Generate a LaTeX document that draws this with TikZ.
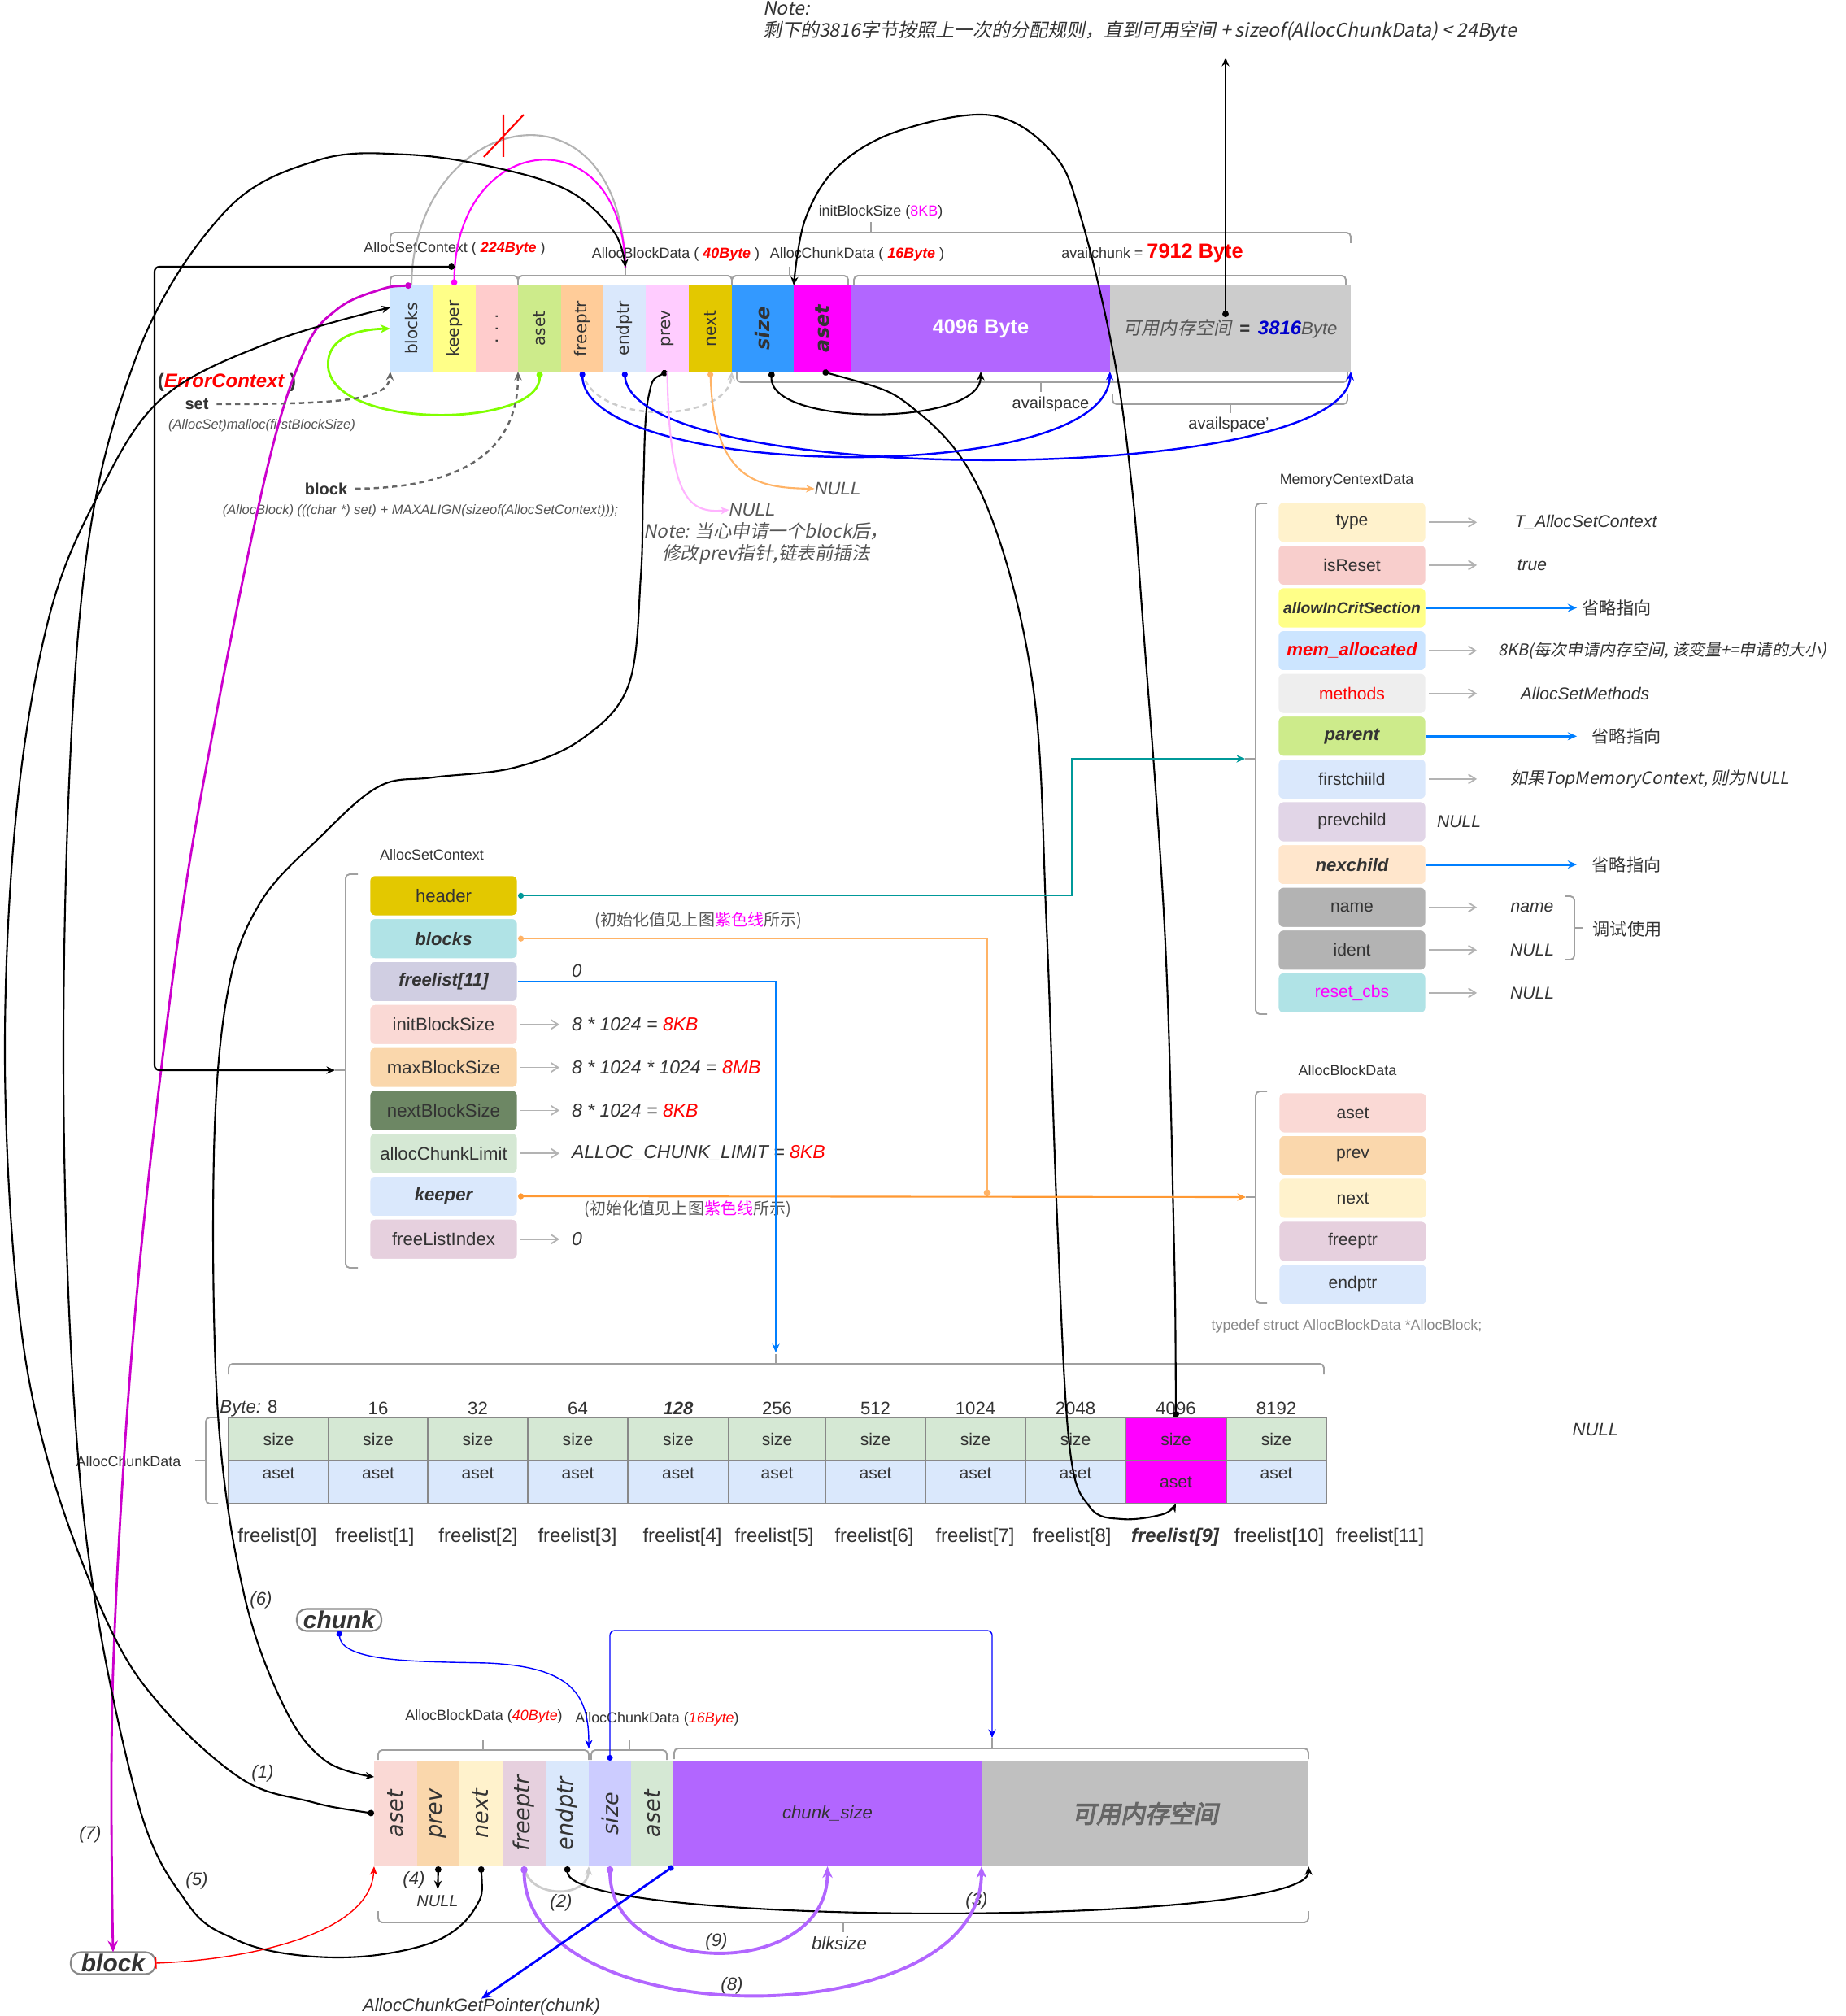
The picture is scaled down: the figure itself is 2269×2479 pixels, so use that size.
\documentclass[tikz,border=0pt]{standalone}
\usepackage{fontspec}
\setmainfont{Liberation Sans}
\newfontfamily\dvs{DejaVu Sans}
\newfontfamily\cjk{Noto Sans CJK SC}
\newfontfamily\cjki{Noto Sans CJK SC}[FakeSlant=0.2]
\newfontfamily\cjkbi{Noto Sans CJK SC}[FakeSlant=0.2,FakeBold=4]
\usetikzlibrary{arrows.meta,calc}
% text colours
\definecolor{cTxt}{HTML}{333333}
\definecolor{cTxtG}{HTML}{555555}
\definecolor{cTxtL}{HTML}{888888}
\definecolor{cTxtD}{HTML}{666666}
\definecolor{cRed}{HTML}{FF0000}
\definecolor{cDBlue}{HTML}{0000CC}
% line colours
\definecolor{cBrace}{HTML}{A0A0A0}
\definecolor{cArcG}{HTML}{B3B3B3}
\definecolor{cMag}{HTML}{FF00FF}
\definecolor{cMagD}{HTML}{CC00CC}
\definecolor{cGreenL}{HTML}{80FF00}
\definecolor{cDash}{HTML}{666666}
\definecolor{cGray2}{HTML}{CCCCCC}
\definecolor{cBlue}{HTML}{0000FF}
\definecolor{cBlue2}{HTML}{007FFF}
\definecolor{cPinkL}{HTML}{FFB3FF}
\definecolor{cOrangeL}{HTML}{FFB366}
\definecolor{cOrange}{HTML}{FF9933}
\definecolor{cTeal}{HTML}{009999}
\definecolor{cGArr}{HTML}{B3B3B3}
\definecolor{cTab}{HTML}{888888}
\definecolor{cPill}{HTML}{888888}
% top bar
\definecolor{cBlocks}{HTML}{CCE5FF}
\definecolor{cKeeper}{HTML}{FFFF88}
\definecolor{cPinkC}{HTML}{FFCCCC}
\definecolor{cAsetG}{HTML}{CDEB8B}
\definecolor{cFree}{HTML}{FFCC99}
\definecolor{cEnd}{HTML}{DAE8FC}
\definecolor{cPrev}{HTML}{FFCCFF}
\definecolor{cNext}{HTML}{E3C800}
\definecolor{cSize}{HTML}{3399FF}
\definecolor{cPurp}{HTML}{B266FF}
\definecolor{cGray}{HTML}{CCCCCC}
% AllocSetContext
\definecolor{sHeader}{HTML}{E3C800}
\definecolor{sBlocks}{HTML}{B0E3E6}
\definecolor{sFreel}{HTML}{D0CEE2}
\definecolor{sInit}{HTML}{FAD9D5}
\definecolor{sMax}{HTML}{FAD7AC}
\definecolor{sNextB}{HTML}{6D8764}
\definecolor{sAlloc}{HTML}{D5E8D4}
\definecolor{sKeep}{HTML}{DAE8FC}
\definecolor{sFLI}{HTML}{E6D0DE}
% MemoryContextData
\definecolor{mType}{HTML}{FFF2CC}
\definecolor{mReset}{HTML}{F8CECC}
\definecolor{mAllow}{HTML}{FFFF88}
\definecolor{mMem}{HTML}{CCE5FF}
\definecolor{mMeth}{HTML}{EEEEEE}
\definecolor{mPar}{HTML}{CDEB8B}
\definecolor{mFirst}{HTML}{DAE8FC}
\definecolor{mPrevc}{HTML}{E1D5E7}
\definecolor{mNex}{HTML}{FFE6CC}
\definecolor{mName}{HTML}{B3B3B3}
\definecolor{mCbs}{HTML}{B0E3E6}
% AllocBlockData / bottom
\definecolor{dAset}{HTML}{FAD9D5}
\definecolor{dPrev}{HTML}{FAD7AC}
\definecolor{dNext}{HTML}{FFF2CC}
\definecolor{dFree}{HTML}{E6D0DE}
\definecolor{dEnd}{HTML}{DAE8FC}
\definecolor{tSize}{HTML}{D5E8D4}
\definecolor{tAset}{HTML}{DAE8FC}
\definecolor{bSize}{HTML}{CCCCFF}
\definecolor{bGray}{HTML}{C0C0C0}

\newcommand\szT{\fontsize{4.7pt}{5.6pt}\selectfont}
\newcommand\szS{\fontsize{5.1pt}{6pt}\selectfont}
\newcommand\szB{\fontsize{5.7pt}{6.8pt}\selectfont}
\newcommand\szM{\fontsize{6.0pt}{7.2pt}\selectfont}
\newcommand\szN{\fontsize{6.3pt}{7.6pt}\selectfont}
\newcommand\szL{\fontsize{6.8pt}{8pt}\selectfont}
\newcommand\szX{\fontsize{7.7pt}{9pt}\selectfont}
\newcommand\szXX{\fontsize{8.5pt}{10pt}\selectfont}

% horizontal brace: x1, x2, y of ends, y of bar, tip x, tip y
\newcommand\hbrc[6]{\draw[brc] (#1,#3) -- (#1,#4) -- (#2,#4) -- (#2,#3); \draw[brc] (#5,#4) -- (#5,#6);}
% vertical brace: y1, y2, x of ends, x of bar, tip y, tip x
\newcommand\vbrc[6]{\draw[brc] (#3,#1) -- (#4,#1) -- (#4,#2) -- (#3,#2); \draw[brc] (#4,#5) -- (#6,#5);}

\tikzset{
  every node/.style={inner sep=0pt, outer sep=0pt, text=cTxt},
  tc/.style={minimum height=1.06cm},
  bc/.style={minimum height=1.30cm},
  sbox/.style={draw=white, line width=0.8pt, rounded corners=0.07cm, minimum width=1.83cm, minimum height=0.51cm},
  brc/.style={draw=cBrace, line width=0.55pt, rounded corners=0.05cm},
  tcell/.style={draw=cTab, line width=0.5pt, minimum height=0.53cm},
  garr/.style={draw=cGArr, line width=0.5pt, -{Straight Barb[length=2.5pt,width=3.2pt]}},
  barr/.style={draw=cBlue2, line width=0.8pt, -{Stealth[length=3.2pt,width=2.8pt]}},
  ar/.style={-{Stealth[length=3pt,width=2.6pt]}},
  dar/.style={{Circle[length=2.2pt]}-{Stealth[length=3pt,width=2.6pt]}},
  pill/.style={draw=cPill, fill=white, line width=0.6pt, rounded corners=0.12cm, minimum width=1.04cm, minimum height=0.27cm},
  dsh/.style={dash pattern=on 1.8pt off 1.4pt},
}

\begin{document}
\begin{tikzpicture}[x=0.01cm,y=-0.01cm,line width=0.6pt]
\useasboundingbox (0,0) rectangle (2269,2479);
\fill[white] (0,0) rectangle (2269,2479);

% ================= top note =================
\node[anchor=north west, align=left, font={\cjki\fontsize{6.55pt}{7.7pt}\selectfont}] (note1) at (938,2) {Note:\\剩下的3816字节按照上一次的分配规则，直到可用空间 + sizeof(AllocChunkData) < 24Byte};
\coordinate (availDot) at (1507,390);
\coordinate (noteArr) at (1507,71);

% ================= top bar =================
\node[tc, fill=cBlocks, minimum width=0.52cm] (t1) at (506,404) {\rotatebox{90}{\dvs\szB blocks}};
\node[tc, fill=cKeeper, minimum width=0.53cm] (t2) at (558.5,404) {\rotatebox{90}{\dvs\szB keeper}};
\node[tc, fill=cPinkC, minimum width=0.52cm] (t3) at (611,404) {\rotatebox{90}{\dvs\szB . . .}};
\node[tc, fill=cAsetG, minimum width=0.53cm] (t4) at (663.5,404) {\rotatebox{90}{\dvs\szB aset}};
\node[tc, fill=cFree, minimum width=0.52cm] (t5) at (716,404) {\rotatebox{90}{\dvs\szB freeptr}};
\node[tc, fill=cEnd, minimum width=0.52cm] (t6) at (768,404) {\rotatebox{90}{\dvs\szB endptr}};
\node[tc, fill=cPrev, minimum width=0.53cm] (t7) at (820.5,404) {\rotatebox{90}{\dvs\szB prev}};
\node[tc, fill=cNext, minimum width=0.53cm] (t8) at (873.5,404) {\rotatebox{90}{\dvs\szB next}};
\node[tc, fill=cSize, minimum width=0.76cm] (t9) at (938,404) {\rotatebox{90}{\dvs\szL\bfseries\itshape size}};
\node[tc, fill=cMag, minimum width=0.71cm] (t10) at (1011.5,404) {\rotatebox{90}{\dvs\szL\bfseries\itshape aset}};
\node[tc, fill=cPurp, minimum width=3.18cm] (t11) at (1206,404) {\fontsize{7.2pt}{8.5pt}\selectfont\bfseries\color{white}4096 Byte};
\node[tc, fill=cGray, minimum width=2.96cm] (t12) at (1513,404) {{\cjki\szN\color{cTxtG}可用内存空间} {\bfseries\szN =} {\bfseries\itshape\szL\color{cDBlue}3816}{\itshape\szN\color{cTxtG}Byte}};

% labels above
\node (lInit) at (1083,261) {\szS initBlockSize ({\color{cMag}8KB})};
\node (lASC) at (559,306) {\szS AllocSetContext ( {\color{cRed}\bfseries\itshape 224Byte} )};
\node (lABD) at (831,313) {\szS AllocBlockData ( {\color{cRed}\bfseries\itshape 40Byte} )};
\node (lACD) at (1054,313) {\szS AllocChunkData ( {\color{cRed}\bfseries\itshape 16Byte} )};
\node (lAvail) at (1417,311) {\szS availchunk = {\color{cRed}\bfseries\fontsize{7.2pt}{8pt}\selectfont 7912 Byte}};
\node (lAS) at (1292,497) {\szB availspace};
\node (lAS2) at (1511,522) {\szB availspace'};

% braces top
\hbrc{480}{1661}{299}{286}{1071}{273}
\hbrc{480}{637}{351}{339}{559}{328}
\hbrc{637}{900}{351}{339}{769}{328}
\hbrc{900}{1043}{351}{339}{971}{328}
\hbrc{1050}{1655}{351}{339}{1352}{328}
\hbrc{906}{1657}{457}{470}{1280}{482}
\hbrc{1368}{1657}{484}{497}{1513}{508}
\coordinate (ascTip) at (559,328);
\coordinate (abdTip) at (769,329);
\coordinate (t1in) at (480,378);

% left texts
\node (errc) at (279,470) {\szL\bfseries (\textcolor{cRed}{\itshape ErrorContext} )};
\node (setn) at (242,497) {\szB\bfseries set};
\node (mallocn) at (322,523) {\szT\itshape\color{cTxtG}(AllocSet)malloc(firstBlockSize)};
\node (blkn) at (401,601) {\szB\bfseries block};
\node (castn) at (517,628) {\szT\itshape\color{cTxtG}(AllocBlock) (((char *) set) + MAXALIGN(sizeof(AllocSetContext)));};
\node (null1) at (925,627) {\szN\itshape\color{cTxtG}NULL};
\node (null2) at (1030,601) {\szN\itshape\color{cTxtG}NULL};
\node[align=center, font={\cjki\fontsize{6.4pt}{7.7pt}\selectfont}, text=cTxtG] (note2) at (942,668) {Note: 当心申请一个block后，\\修改prev指针,链表前插法};

% ================= AllocSetContext =================
\node (lASC2) at (531,1051) {\szS AllocSetContext};
\vbrc{1075}{1559}{440}{425}{1316}{412}
\coordinate (ascSTip) at (412,1316);
\node[sbox, fill=sHeader] (ah) at (545.5,1101.4) {\szN header};
\node[sbox, fill=sBlocks] (ab) at (545.5,1154.2) {\szN\bfseries\itshape blocks};
\node[sbox, fill=sFreel] (af) at (545.5,1207) {\szN\bfseries\itshape freelist[11]};
\node[sbox, fill=sInit] (ai) at (545.5,1259.8) {\szN initBlockSize};
\node[sbox, fill=sMax] (am) at (545.5,1312.6) {\szN maxBlockSize};
\node[sbox, fill=sNextB] (an) at (545.5,1365.4) {\szN nextBlockSize};
\node[sbox, fill=sAlloc] (ac) at (545.5,1418.2) {\szN allocChunkLimit};
\node[sbox, fill=sKeep] (ak) at (545.5,1471) {\szN\bfseries\itshape keeper};
\node[sbox, fill=sFLI] (ax) at (545.5,1523.8) {\szN freeListIndex};

\node[anchor=west] (flT) at (703,1194) {\szN\itshape 0};
\node[anchor=west] (aiT) at (703,1259.8) {\fontsize{6.55pt}{7.7pt}\selectfont\itshape 8 * 1024 = \textcolor{cRed}{8KB}};
\node[anchor=west] (amT) at (703,1312.6) {\fontsize{6.55pt}{7.7pt}\selectfont\itshape 8 * 1024 * 1024 = \textcolor{cRed}{8MB}};
\node[anchor=west] (anT) at (703,1365.4) {\fontsize{6.55pt}{7.7pt}\selectfont\itshape 8 * 1024 = \textcolor{cRed}{8KB}};
\node[anchor=west] (acT) at (703,1418.2) {\fontsize{6.55pt}{7.7pt}\selectfont\itshape ALLOC\_CHUNK\_LIMIT = \textcolor{cRed}{8KB}};
\node[anchor=west] (axT) at (703,1523.8) {\fontsize{6.55pt}{7.7pt}\selectfont\itshape 0};
\foreach \s/\d in {ai/aiT,am/amT,an/anT,ac/acT,ax/axT} {\draw[garr, shorten >=0.15cm, shorten <=0.03cm] (\s.east) -- (\d.west);}

\node (iv1) at (859,1132) {\cjk\szB\color{cTxtG}(初始化值见上图{\color{cMag}紫色线}所示)};
\node (iv2) at (846,1487) {\cjk\szB\color{cTxtG}(初始化值见上图{\color{cMag}紫色线}所示)};
\coordinate (mcTip) at (1531,933);
\coordinate (abTip) at (1532,1472);
\coordinate (junc) at (1214,1471);
\coordinate (flTip) at (954,1663);

% ================= MemoryContextData =================
\node (lMC) at (1656,591) {\szS MemoryCentextData};
\vbrc{619}{1247}{1558}{1544}{933}{1531}
\node[sbox, fill=mType] (m0) at (1662.5,642.3) {\szM type};
\node[sbox, fill=mReset] (m1) at (1662.5,694.9) {\szM isReset};
\node[sbox, fill=mAllow] (m2) at (1662.5,747.5) {\fontsize{5.5pt}{6.5pt}\selectfont\bfseries\itshape allowInCritSection};
\node[sbox, fill=mMem] (m3) at (1662.5,800.1) {\szN\bfseries\itshape\color{cRed}mem\_allocated};
\node[sbox, fill=mMeth] (m4) at (1662.5,852.7) {\szM\color{cRed}methods};
\node[sbox, fill=mPar] (m5) at (1662.5,905.3) {\szN\bfseries\itshape parent};
\node[sbox, fill=mFirst] (m6) at (1662.5,957.9) {\szM firstchiild};
\node[sbox, fill=mPrevc] (m7) at (1662.5,1010.5) {\szM prevchild};
\node[sbox, fill=mNex] (m8) at (1662.5,1063.1) {\szN\bfseries\itshape nexchild};
\node[sbox, fill=mName] (m9) at (1662.5,1115.7) {\szM name};
\node[sbox, fill=mName] (m10) at (1662.5,1168.3) {\szM ident};
\node[sbox, fill=mCbs] (m11) at (1662.5,1220.9) {\szM\color{cMag}reset\_cbs};

\node (v0) at (1950,642.3) {\szM\itshape T\_AllocSetContext};
\node (v1) at (1884,694.9) {\szM\itshape true};
\node (v2) at (1988,747.5) {\cjk\szM 省略指向};
\node (v3) at (2044,800.1) {\cjki\fontsize{5.7pt}{6.7pt}\selectfont 8KB(每次申请内存空间, 该变量+=申请的大小)};
\node (v4) at (1949,852.7) {\szM\itshape AllocSetMethods};
\node (v5) at (2000,905.3) {\cjk\szM 省略指向};
\node (v6) at (2029,957.9) {\cjki\szM 如果TopMemoryContext, 则为NULL};
\node (v7) at (1794,1010.5) {\szM\itshape NULL};
\node (v8) at (2000,1063.1) {\cjk\szM 省略指向};
\node (v9) at (1884,1115.7) {\szM\itshape name};
\node (v10) at (1884,1168.3) {\szM\itshape NULL};
\node (v11) at (1884,1220.9) {\szM\itshape NULL};
\foreach \m in {m0,m1,m3,m4,m6,m9,m10,m11} {\draw[garr, shorten <=0.03cm] (\m.east) -- ++(62,0);}
\foreach \m in {m2,m5,m8} {\draw[barr] (\m.east) -- ++(185,0);}
\draw[brc] (1924,1102) -- (1936,1102) -- (1936,1180) -- (1924,1180);
\draw[brc] (1936,1141) -- (1946,1141);
\node (dbg) at (2001,1143) {\cjk\szM 调试使用};

% ================= AllocBlockData =================
\node (lAB) at (1657,1316) {\szS AllocBlockData};
\vbrc{1342}{1602}{1558}{1544}{1472}{1532}
\node[sbox, fill=dAset] (d0) at (1663.5,1368.5) {\szM aset};
\node[sbox, fill=dPrev] (d1) at (1663.5,1421) {\szM prev};
\node[sbox, fill=dNext] (d2) at (1663.5,1473.5) {\szM next};
\node[sbox, fill=dFree] (d3) at (1663.5,1526.5) {\szM freeptr};
\node[sbox, fill=dEnd] (d4) at (1663.5,1579.5) {\szM endptr};
\node (tdef) at (1656,1631) {\szS\color{cTxtL}typedef struct AllocBlockData *AllocBlock;};

% ================= freelist table =================
\hbrc{281}{1628}{1690}{1677}{954}{1665}
\vbrc{1743}{1849}{268}{253}{1796}{240}
\node (lACD2) at (158,1797) {\szS AllocChunkData};
\foreach \i/\cx/\w in {0/342.5/1.23,1/465/1.22,2/587.5/1.23,3/710.5/1.23,4/834/1.24,5/955.5/1.19,6/1076.5/1.23,7/1199.5/1.23,8/1322.5/1.23,10/1569.5/1.23} {
  \node[tcell, fill=tSize, minimum width=\w cm] (fs\i) at (\cx,1769.5) {};
  \node[tcell, fill=tAset, minimum width=\w cm] (fa\i) at (\cx,1822.5) {};
  \node (fst\i) at (\cx,1770) {\szM size};
  \node (fat\i) at (\cx,1812) {\szM aset};
}
\node[tcell, fill=cMag, minimum width=1.24cm] (f9s) at (1446,1769.5) {\szM size};
\node[tcell, fill=cMag, minimum width=1.24cm] (f9a) at (1446,1822.5) {\szM aset};
\node (by0) at (306,1732) {\szN{\itshape Byte:} 8};
\foreach \cx/\t in {465/16,587.5/32,710.5/64,955.5/256,1076.5/512,1199.5/1024,1322.5/2048,1446/4096,1569.5/8192} {\node (by\t) at (\cx,1732) {\szN \t};}
\node (by128) at (834,1732) {\szN\bfseries\itshape 128};
\foreach \i/\cx in {0/341,1/461,2/588,3/710,4/839,5/952,6/1075,7/1199,8/1318,10/1573,11/1697} {\node (fl\i) at (\cx,1890) {\szL freelist[\i]};}
\node (fl9) at (1445,1890) {\szL\bfseries\itshape freelist[9]};
\node (nullT) at (1962,1758) {\szN\itshape NULL};

% ================= bottom block =================
\node[bc, fill=dAset, minimum width=0.53cm] (b1) at (486.5,2230) {\rotatebox{90}{\dvs\szX\itshape aset}};
\node[bc, fill=dPrev, minimum width=0.52cm] (b2) at (539,2230) {\rotatebox{90}{\dvs\szX\itshape prev}};
\node[bc, fill=dNext, minimum width=0.53cm] (b3) at (591.5,2230) {\rotatebox{90}{\dvs\szX\itshape next}};
\node[bc, fill=dFree, minimum width=0.53cm] (b4) at (644.5,2230) {\rotatebox{90}{\dvs\szX\itshape freeptr}};
\node[bc, fill=dEnd, minimum width=0.53cm] (b5) at (697.5,2230) {\rotatebox{90}{\dvs\szX\itshape endptr}};
\node[bc, fill=bSize, minimum width=0.52cm] (b6) at (750,2230) {\rotatebox{90}{\dvs\szX\itshape size}};
\node[bc, fill=tSize, minimum width=0.52cm] (b7) at (802,2230) {\rotatebox{90}{\dvs\szX\itshape aset}};
\node[bc, fill=cPurp, minimum width=3.79cm] (b8) at (1017.5,2230) {\szN\itshape chunk\_size};
\node[bc, fill=bGray, minimum width=4.02cm] (b9) at (1408,2230) {\cjkbi\fontsize{8.5pt}{10pt}\selectfont\color{cTxtD}可用内存空间};
\coordinate (b1in) at (460,2185);
\coordinate (chunkTip) at (724,2150);
\coordinate (dataTip) at (1220,2137);

\hbrc{465}{724}{2164}{2152}{594}{2140}
\hbrc{727}{820}{2164}{2152}{774}{2140}
\hbrc{829}{1609}{2163}{2150}{1220}{2137}
\hbrc{465}{1609}{2350}{2364}{1037}{2376}
\node (lABD2) at (595,2111) {\szS AllocBlockData ({\color{cRed}\itshape 40Byte})};
\node (lACD3) at (808,2114) {\szS AllocChunkData ({\color{cRed}\itshape 16Byte})};
\node (blks) at (1032,2390) {\szN\itshape blksize};

\node[pill] (chunkn) at (417,1992) {\szXX\bfseries\itshape chunk};
\node[pill] (blk2) at (139,2414) {\szXX\bfseries\itshape block};
\node (gptr) at (592,2468) {\szN\itshape AllocChunkGetPointer(chunk)};
\node (nullb) at (538,2338) {\szB\itshape NULL};

\node (n1) at (323,2181) {\szN\itshape (1)};
\node (n2) at (690,2340) {\szN\itshape (2)};
\node (n3) at (1201,2338) {\szN\itshape (3)};
\node (n4) at (509,2312) {\szN\itshape (4)};
\node (n5) at (242,2313) {\szN\itshape (5)};
\node (n6) at (321,1968) {\szN\itshape (6)};
\node (n7) at (111,2256) {\szN\itshape (7)};
\node (n8) at (900,2442) {\szN\itshape (8)};
\node (n9) at (881,2388) {\szN\itshape (9)};

% ================= connectors =================
% top
\draw[draw=cArcG] (t1.north) .. controls (508,140) and (762,80) .. (abdTip);
\draw[cRed] (619,141) -- (619,193) (644,141) -- (595,193);
\draw[cMag, {Circle[length=2.2pt]}-] (t2.north) .. controls (560,160) and (765,140) .. (abdTip);
\draw[cMagD, line width=0.8pt, {Circle[length=2.2pt]}-{Stealth[length=4pt,width=3.5pt]}] plot[smooth, tension=0.6] coordinates {(t1.north) (465,357) (415,380) (375,430) (330,570) (265,883) (216,1176) (166,1616) (139,2056) (blk2.north)};
\draw[dar] plot[smooth, tension=0.6] coordinates {(b3.south) (585,2345) (540,2385) (455,2405) (365,2404) (290,2385) (230,2340) (166,2203) (100,1836) (78,1294) (100,737) (166,443) (275,262) (391,197) (500,190) (609,206) (700,235) (755,285) (abdTip)};
\draw[dar] plot[smooth, tension=0.6] coordinates {(b1.west) (380,2215) (298,2188) (200,2100) (133,1997) (60,1800) (22,1600) (6,1300) (20,1000) (60,760) (120,610) (199,490) (332,421) (t1in)};
\draw[dar] plot[smooth, tension=0.6] coordinates {(t7.south) (797,490) (791,600) (788,708) (773,842) (715,909) (632,944) (532,956) (466,967) (395,1028) (320,1110) (280,1220) (263,1420) (268,1739) (300,1960) (350,2100) (400,2165) (b1in)};
\draw[dar] plot[smooth, tension=0.6] coordinates {(t10.south) (1129,507) (1212,619) (1270,842) (1287,1140) (1300,1500) (1315,1777) (1340,1853) (1380,1868) (1430,1862) (f9a.south)};
\draw[dar] plot[smooth, tension=0.6] coordinates {(f9s.north) (1443,1500) (1432,1140) (1405,760) (1392,600) (1370,440) (1330,270) (1296,190) (1220,142) (1105,161) (1030,205) (990,270) (t10.north west)};
\draw[dar, rounded corners=0.06cm] (ascTip) -- (190,328) -- (190,1316) -- (ascSTip);
\draw[cGreenL, line width=0.8pt, {Circle[length=2.2pt]}-{Stealth[length=3.5pt,width=3pt]}] (t4.south) .. controls (665,525) and (420,530) .. (404,455) .. controls (398,415) and (440,405) .. (t1.west);
\draw[cDash, line width=0.7pt, dsh, ar, shorten <=0.1cm] (setn.east) .. controls (420,497) and (478,492) .. (t1.south west);
\draw[cDash, line width=0.7pt, dsh, ar, shorten <=0.1cm] (blkn.east) .. controls (560,600) and (637,560) .. (t4.south west);
\draw[cGray2, line width=0.7pt, dsh, ar] (t5.south) .. controls (730,525) and (895,520) .. (t9.south west);
\draw[cBlue, line width=0.7pt, {Circle[length=2pt]}-{Stealth[length=3pt,width=2.6pt]}] (t5.south) .. controls (720,590) and (1360,600) .. (t12.south west);
\draw[cBlue, line width=0.7pt, {Circle[length=2pt]}-{Stealth[length=3pt,width=2.6pt]}] (t6.south) .. controls (780,600) and (1650,600) .. (t12.south east);
\draw[cPinkL, ar] (t7.south) .. controls (823,610) and (845,632) .. (null1.west);
\draw[cOrangeL, {Circle[length=2pt]}-{Stealth[length=3pt,width=2.6pt]}] (t8.south) .. controls (878,590) and (930,600) .. (null2.west);
\draw[dar] ($(t9.south)+(11,0)$) .. controls (945,525) and (1206,525) .. (t11.south);
\draw[dar] (availDot) -- (noteArr);
% middle
\draw[cTeal, line width=0.5pt, {Circle[length=2pt]}-{Stealth[length=3pt,width=2.6pt]}] (ah.east) -- (1318,1101.4) -- (1318,933) -- (mcTip);
\draw[cOrangeL, line width=0.6pt, {Circle[length=2pt]}-{Circle[length=2.4pt]}] (ab.east) -- (1214,1154.2) -- (junc);
\draw[cOrange, line width=0.6pt, {Circle[length=2pt]}-{Stealth[length=3pt,width=2.6pt]}] (ak.east) -- (abTip);
\draw[cBlue2, line width=0.7pt, ar] (af.east) -- (954,1207) -- (flTip);
% bottom
\draw[dar, shorten >=0.08cm] (b2.south) -- (nullb.north);
\draw[cGray2, line width=0.8pt, ar] (b4.south) .. controls (650,2335) and (722,2335) .. (b6.south west);
\draw[dar] (b5.south) .. controls (700,2370) and (1610,2370) .. (b9.south east);
\draw[cPurp, line width=1.1pt, {Circle[length=2.4pt]}-{Stealth[length=4pt,width=3.5pt]}] (b6.south) .. controls (750,2435) and (1018,2435) .. (b8.south);
\draw[cPurp, line width=1.1pt, {Circle[length=2.4pt]}-{Stealth[length=4pt,width=3.5pt]}] (b4.south) .. controls (645,2505) and (1207,2505) .. (b9.south west);
\draw[cBlue, line width=0.4pt, {Circle[length=2pt]}-{Stealth[length=3pt,width=2.6pt]}, rounded corners=0.06cm] (b6.north) -- (750,2005) -- (1220,2005) -- (dataTip);
\draw[cBlue, line width=0.4pt, {Circle[length=2pt]}-{Stealth[length=3pt,width=2.6pt]}] (chunkn.south) .. controls (420,2045) and (520,2043) .. (600,2045) .. controls (705,2050) and (724,2085) .. (chunkTip);
\draw[cBlue, line width=0.8pt, {Circle[length=2pt]}-{Stealth[length=3.5pt,width=3pt]}] (b8.south west) -- (gptr.north);
\draw[cRed, line width=0.4pt, {Bar[width=4pt]}-{Stealth[length=3pt,width=2.6pt]}] (blk2.east) .. controls (300,2410) and (455,2380) .. (b1.south west);
\end{tikzpicture}
\end{document}
